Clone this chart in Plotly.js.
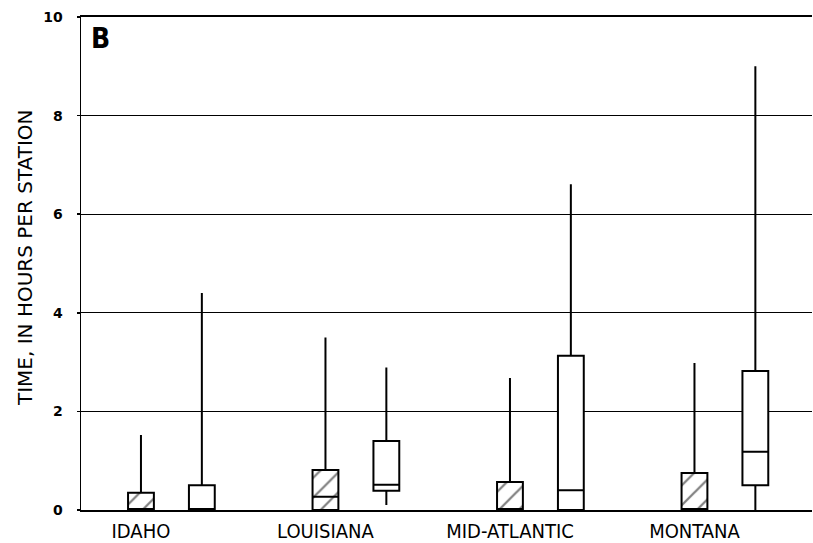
<!DOCTYPE html>
<html>
<head>
<meta charset="utf-8">
<script src="https://cdn.plot.ly/plotly-3.0.1.min.js"></script>
<style>html,body{margin:0;padding:0;background:#fff;}#chart{width:813px;height:543px;}</style>
</head>
<body>
<div id="chart"></div>
<script>
const categories = ['IDAHO', 'LOUISIANA', 'MID-ATLANTIC', 'MONTANA'];
const yTickVals = [0, 2, 4, 6, 8, 10];
const yTickText = ['0', '2', '4', '6', '8', '10'];

// hatched boxes
const hatchLower = [0, 0, 0, 0];
const hatchQ1 = [0, 0, 0, 0];
const hatchMedian = [0, 0.27, 0, 0];
const hatchQ3 = [0.35, 0.81, 0.57, 0.75];
const hatchUpper = [1.52, 3.5, 2.68, 2.98];

// open boxes
const openLower = [0, 0.1, 0, 0];
const openQ1 = [0, 0.39, 0, 0.5];
const openMedian = [0, 0.51, 0.4, 1.18];
const openQ3 = [0.5, 1.4, 3.13, 2.82];
const openUpper = [4.4, 2.89, 6.61, 9.0];

const catIndex = categories.map((c, i) => i);
const openOffset = 0.33;
const boxW = 0.14;
const openX = catIndex.map(i => i + openOffset);

const traces = [
  {
    type: 'bar', x: catIndex, y: hatchQ3.map((v, i) => v - hatchQ1[i]), base: hatchQ1,
    width: boxW, showlegend: false, hoverinfo: 'skip',
    marker: { color: 'white', line: { width: 0 },
      pattern: { shape: '/', fgcolor: 'black', bgcolor: 'white', size: 14, solidity: 0.16, fillmode: 'overlay' } }
  },
  {
    type: 'box', x: catIndex, q1: hatchQ1, median: hatchMedian, q3: hatchQ3,
    lowerfence: hatchLower, upperfence: hatchUpper, width: boxW, whiskerwidth: 0,
    boxpoints: false, showlegend: false, fillcolor: 'rgba(0,0,0,0)',
    line: { color: 'black', width: 2 }
  },
  {
    type: 'box', x: openX, q1: openQ1, median: openMedian, q3: openQ3,
    lowerfence: openLower, upperfence: openUpper, width: boxW, whiskerwidth: 0,
    boxpoints: false, showlegend: false, fillcolor: 'white',
    line: { color: 'black', width: 2 }
  }
];

const layout = {
  width: 813, height: 543,
  margin: { l: 81, r: 1, t: 17, b: 33 },
  paper_bgcolor: 'white', plot_bgcolor: 'white',
  font: { family: 'DejaVu Sans', color: 'black' },
  barmode: 'overlay', boxmode: 'overlay',
  showlegend: false,
  xaxis: {
    range: [-0.325, 3.637], tickmode: 'array', tickvals: catIndex, ticktext: categories,
    ticks: '', showgrid: false, zeroline: false,
    showline: true, linecolor: 'black', linewidth: 2, mirror: true,
    tickfont: { family: 'DejaVu Sans Condensed', size: 20, color: 'black' },
    ticklabelstandoff: 2
  },
  yaxis: {
    range: [0, 10], tickmode: 'array', tickvals: yTickVals, ticktext: yTickText,
    ticks: 'outside', ticklen: 3, tickwidth: 1.5, tickcolor: 'black',
    showgrid: true, gridcolor: 'black', gridwidth: 1.2,
    zeroline: false, showline: true, linecolor: 'black', linewidth: 1.5,
    tickfont: { family: 'DejaVu Sans', size: 14, color: 'black', weight: 'bold' },
    ticklabelstandoff: 11
  },
  annotations: [
    { text: 'TIME, IN HOURS PER STATION', textangle: -90, xref: 'paper', yref: 'paper',
      x: (24.5 - 81) / 731, y: (510 - 257.5) / 493, xanchor: 'center', yanchor: 'middle',
      showarrow: false, font: { family: 'DejaVu Sans', size: 20, color: 'black' } },
    { text: 'B', xref: 'paper', yref: 'paper', x: (89 - 81) / 731, y: (510 - 38.5) / 493,
      xanchor: 'left', yanchor: 'middle', showarrow: false,
      font: { family: 'DejaVu Sans Condensed', size: 28, color: 'black', weight: 'bold' } }
  ]
};

Plotly.newPlot('chart', traces, layout, { staticPlot: true });
</script>
</body>
</html>
